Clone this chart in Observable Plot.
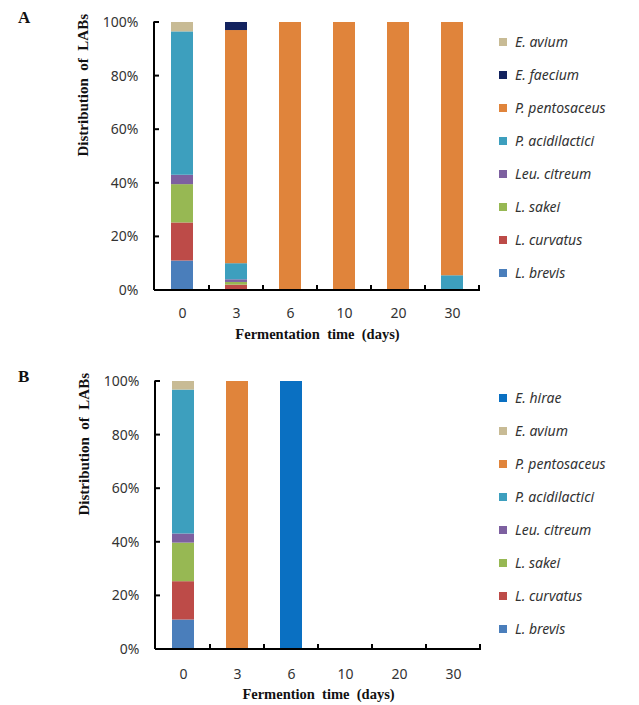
<!DOCTYPE html>
<html>
<head>
<meta charset="utf-8">
<script src="https://cdn.jsdelivr.net/npm/d3@7"></script>
<script src="https://cdn.jsdelivr.net/npm/@observablehq/plot@0.6"></script>
<style>
  html, body { margin: 0; padding: 0; background: #fff; }
  #root { width: 639px; }
  .panel { position: relative; width: 639px; }
  .panel svg { display: block; }
  .plabel { position: absolute; left: 18px; font: bold 17px "Liberation Serif", serif; color: #111; }
  .legend { position: absolute; left: 499px; }
  .item { position: absolute; left: 0; white-space: nowrap; font: italic 14px "Noto Sans", sans-serif; color: #333; line-height: 16px; transform: translateY(-50%); }
  .sw { display: inline-block; width: 8px; height: 8px; margin-right: 8px; vertical-align: 1px; }
</style>
</head>
<body>
<div id="root"></div>
<script>
// ---- data ----
const days = ["0", "3", "6", "10", "20", "30"];
const yTicks = [0, 20, 40, 60, 80, 100];

// Panel A species (stack order bottom -> top)
const speciesA = ["L. brevis", "L. curvatus", "L. sakei", "Leu. citreum", "P. acidilactici", "P. pentosaceus", "E. faecium", "E. avium"];
const brevisA       = [11,   0,  0,   0,   0,   0];
const curvatusA     = [14.2, 2,  0,   0,   0,   0];
const sakeiA        = [14.3, 1,  0,   0,   0,   0];
const citreumA      = [3.5,  1,  0,   0,   0,   0];
const acidilacticiA = [53.5, 6,  0,   0,   0,   5.5];
const pentosaceusA  = [0,    87, 100, 100, 100, 94.5];
const faeciumA      = [0,    3,  0,   0,   0,   0];
const aviumA        = [3.5,  0,  0,   0,   0,   0];
const valuesA = [brevisA, curvatusA, sakeiA, citreumA, acidilacticiA, pentosaceusA, faeciumA, aviumA];

// Panel B species
const speciesB = ["L. brevis", "L. curvatus", "L. sakei", "Leu. citreum", "P. acidilactici", "P. pentosaceus", "E. avium", "E. hirae"];
const brevisB       = [11,   0,   0,   0, 0, 0];
const curvatusB     = [14.3, 0,   0,   0, 0, 0];
const sakeiB        = [14.4, 0,   0,   0, 0, 0];
const citreumB      = [3.4,  0,   0,   0, 0, 0];
const acidilacticiB = [53.7, 0,   0,   0, 0, 0];
const pentosaceusB  = [0,    100, 0,   0, 0, 0];
const aviumB        = [3.2,  0,   0,   0, 0, 0];
const hiraeB        = [0,    0,   100, 0, 0, 0];
const valuesB = [brevisB, curvatusB, sakeiB, citreumB, acidilacticiB, pentosaceusB, aviumB, hiraeB];

const colorOf = {
  "L. brevis": "#4a7ebb",
  "L. curvatus": "#bd4b48",
  "L. sakei": "#97b853",
  "Leu. citreum": "#7d60a0",
  "P. acidilactici": "#3d9fbe",
  "P. pentosaceus": "#e0843b",
  "E. faecium": "#13235f",
  "E. avium": "#c8bb95",
  "E. hirae": "#0a70c2"
};

function tidy(species, values) {
  const rows = [];
  species.forEach((s, i) => days.forEach((d, j) => rows.push({species: s, day: d, value: values[i][j]})));
  return rows;
}

function axesMark(scales, dims) {
  const {width, height, marginLeft, marginRight, marginBottom} = dims;
  const g = d3.create("svg:g").attr("stroke", "#000").attr("fill", "none").attr("stroke-width", 2);
  const x0 = marginLeft - 1, x1 = width - marginRight, yb = height - marginBottom;
  const step = (width - marginLeft - marginRight) / days.length;
  g.append("line").attr("x1", x0).attr("x2", x0).attr("y1", scales.y(100) - 0.5).attr("y2", yb);
  g.append("line").attr("x1", x0).attr("x2", x1 + 1).attr("y1", yb).attr("y2", yb);
  yTicks.filter(t => t > 0).forEach(t => {
    const y = scales.y(t);
    g.append("line").attr("x1", x0).attr("x2", x0 + 5).attr("y1", y).attr("y2", y);
  });
  days.forEach((d, i) => {
    const x = marginLeft + (i + 1) * step;
    g.append("line").attr("x1", x).attr("x2", x).attr("y1", yb).attr("y2", yb - 5);
  });
  return g.node();
}

function panel({letter, species, values, legendOrder, xTitle, height, mt, mb, ml, mr, legendTop, legendStep, tickPad, titleDy}) {
  const data = tidy(species, values);
  const div = document.createElement("div");
  div.className = "panel";
  const chart = Plot.plot({
    width: 639,
    height,
    marginLeft: ml,
    marginRight: mr,
    marginTop: mt,
    marginBottom: mb,
    style: {fontFamily: "'Noto Sans', sans-serif", background: "#fff"},
    x: {type: "band", domain: days, paddingInner: 0.6, paddingOuter: 0.3, axis: null},
    y: {domain: [0, 100], axis: null},
    color: {domain: Object.keys(colorOf), range: Object.values(colorOf)},
    marks: [
      Plot.barY(data, {x: "day", y: "value", fill: "species", order: species}),
      Plot.axisY(yTicks, {tickSize: 0, tickPadding: 17, tickFormat: d => d + "%", fontSize: 14, fill: "#333", label: null}),
      Plot.axisX(days, {tickSize: 0, tickPadding: tickPad, fontSize: 14, fill: "#333", label: null}),
      (index, scales, values, dims) => axesMark(scales, dims),
      Plot.text(["Distribution  of  LABs"], {frameAnchor: "left", dx: -72, rotate: -90, fontFamily: "'Liberation Serif', serif", fontWeight: "bold", fontSize: 15, fill: "#111"}),
      Plot.text([xTitle], {frameAnchor: "bottom", lineAnchor: "middle", dy: titleDy, fontFamily: "'Liberation Serif', serif", fontWeight: "bold", fontSize: 14.5, fill: "#111"})
    ]
  });
  div.appendChild(chart);
  const lab = document.createElement("div");
  lab.className = "plabel";
  lab.style.top = (mt - 14) + "px";
  lab.textContent = letter;
  div.appendChild(lab);
  const leg = document.createElement("div");
  leg.className = "legend";
  leg.style.top = "0px";
  legendOrder.forEach((s, i) => {
    const it = document.createElement("div");
    it.className = "item";
    it.style.top = (legendTop + i * legendStep) + "px";
    const sw = document.createElement("span");
    sw.className = "sw";
    sw.style.background = colorOf[s];
    it.appendChild(sw);
    it.appendChild(document.createTextNode(s));
    leg.appendChild(it);
  });
  div.appendChild(leg);
  return div;
}

const root = document.getElementById("root");
root.appendChild(panel({
  letter: "A", species: speciesA, values: valuesA,
  legendOrder: speciesA.slice().reverse(),
  xTitle: "Fermentation  time  (days)",
  height: 352, mt: 22, mb: 62, ml: 155, mr: 160, legendTop: 42, legendStep: 33,
  tickPad: 18, titleDy: 44
}));
root.appendChild(panel({
  letter: "B", species: speciesB, values: valuesB,
  legendOrder: speciesB.slice().reverse(),
  xTitle: "Fermention  time  (days)",
  height: 353, mt: 29, mb: 56, ml: 156, mr: 159, legendTop: 46, legendStep: 33,
  tickPad: 20, titleDy: 45
}));
</script>
</body>
</html>
